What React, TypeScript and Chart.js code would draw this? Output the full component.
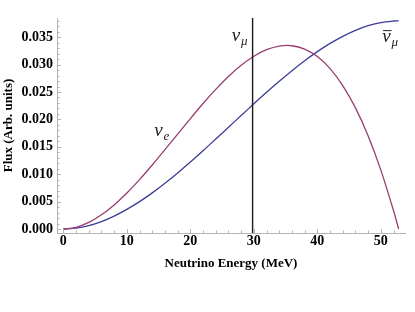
import { useEffect, useRef } from "react";
import { Chart, registerables } from "chart.js";

Chart.register(...registerables);

// Neutrino energy grid (MeV)
const energies = [0, 2, 4, 6, 8, 10, 12, 14, 16, 18, 20, 22, 24, 26, 28, 30, 32, 34, 36, 38, 40, 42, 44, 46, 48, 50, 52, 52.8];
// nu_e flux (arb. units)
const nuEFlux = [0, 0.00031, 0.0012, 0.00259, 0.0044, 0.00657, 0.00902, 0.01168, 0.01447, 0.01732, 0.02015, 0.0229, 0.02548, 0.02783, 0.02986, 0.03152, 0.03272, 0.03338, 0.03344, 0.03283, 0.03146, 0.02926, 0.02617, 0.0221, 0.01699, 0.01075, 0.00332, 0];
// anti nu_mu flux (arb. units)
const nuMuBarFlux = [0, 0.00016, 0.00062, 0.00136, 0.00235, 0.00357, 0.00499, 0.00659, 0.00835, 0.01023, 0.01222, 0.01429, 0.01641, 0.01856, 0.02071, 0.02285, 0.02494, 0.02696, 0.02889, 0.0307, 0.03236, 0.03386, 0.03516, 0.03625, 0.03709, 0.03767, 0.03795, 0.03798];
// monoenergetic nu_mu line (MeV)
const nuMuEnergy = 29.8;

const xTickValues = [0, 10, 20, 30, 40, 50];
const yTickValues = [0, 0.005, 0.01, 0.015, 0.02, 0.025, 0.03, 0.035];
const xMinorStep = 2;
const yMinorStep = 0.001;

const X_MIN = -1.0;
const X_MAX = 53.8;
const Y_MIN = -0.00073;
const Y_MAX = 0.0385;

const labels = [
  { main: "ν", sub: "μ", bar: false, x: 26.5, y: 0.0343 },
  { main: "ν", sub: "e", bar: false, x: 14.3, y: 0.0170 },
  { main: "ν", sub: "μ", bar: true, x: 50.2, y: 0.0341 },
];

const AXIS_COLOR = "#b4b4b4";
const FONT = "'Liberation Serif', 'Times New Roman', serif";

const tickPlugin = {
  id: "mmaTicks",
  afterDatasetsDraw(chart: any) {
    const { ctx, chartArea, scales } = chart;
    const xs = scales.x;
    const ys = scales.y;
    ctx.save();
    ctx.strokeStyle = AXIS_COLOR;
    ctx.lineWidth = 1;
    for (let v = 0; v <= X_MAX + 1e-9; v += xMinorStep) {
      const major = xTickValues.some((t) => Math.abs(t - v) < 1e-9);
      const px = Math.round(xs.getPixelForValue(v)) + 0.5;
      const len = major ? 4 : 2.5;
      ctx.beginPath();
      ctx.moveTo(px, chartArea.bottom);
      ctx.lineTo(px, chartArea.bottom - len);
      ctx.stroke();
    }
    for (let i = 0; i * yMinorStep <= Y_MAX + 1e-12; i++) {
      const v = i * yMinorStep;
      const major = yTickValues.some((t) => Math.abs(t - v) < 1e-9);
      const py = Math.round(ys.getPixelForValue(v)) + 0.5;
      const len = major ? 4 : 2.5;
      ctx.beginPath();
      ctx.moveTo(chartArea.left, py);
      ctx.lineTo(chartArea.left + len, py);
      ctx.stroke();
    }
    ctx.fillStyle = "#222";
    ctx.textBaseline = "alphabetic";
    ctx.textAlign = "left";
    for (const l of labels) {
      const px = xs.getPixelForValue(l.x);
      const py = ys.getPixelForValue(l.y);
      ctx.font = `italic 19px ${FONT}`;
      ctx.fillText(l.main, px, py);
      const w = ctx.measureText(l.main).width;
      if (l.bar) {
        ctx.fillRect(px + 1, py - 12, w, 1);
      }
      ctx.font = `italic 13px ${FONT}`;
      ctx.fillText(l.sub, px + w + 1, py + 4);
    }
    ctx.restore();
  },
};

export default function App() {
  const ref = useRef<HTMLCanvasElement | null>(null);
  useEffect(() => {
    if (!ref.current) return;
    const chart = new Chart(ref.current, {
      type: "scatter",
      data: {
        datasets: [
          {
            label: "nu_mu",
            data: [
              { x: nuMuEnergy, y: Y_MIN },
              { x: nuMuEnergy, y: Y_MAX },
            ],
            showLine: true,
            borderColor: "#1a1a1a",
            borderWidth: 1.4,
            pointRadius: 0,
          },
          {
            label: "nu_e",
            data: energies.map((e, i) => ({ x: e, y: nuEFlux[i] })),
            showLine: true,
            borderColor: "#993d71",
            borderWidth: 1.3,
            pointRadius: 0,
            tension: 0.3,
          },
          {
            label: "anti nu_mu",
            data: energies.map((e, i) => ({ x: e, y: nuMuBarFlux[i] })),
            showLine: true,
            borderColor: "#3d3d99",
            borderWidth: 1.3,
            pointRadius: 0,
            tension: 0.3,
          },
        ],
      },
      options: {
        animation: false,
        responsive: false,
        maintainAspectRatio: false,
        layout: { padding: { top: 18, right: 10, left: 0, bottom: 41 } },
        plugins: { legend: { display: false }, tooltip: { enabled: false } },
        scales: {
          x: {
            type: "linear",
            min: X_MIN,
            max: X_MAX,
            afterBuildTicks: (s: any) => {
              s.ticks = xTickValues.map((v) => ({ value: v }));
            },
            afterFit: (s: any) => {
              s.height = 38;
            },
            grid: { display: false, drawTicks: false },
            border: { display: true, color: AXIS_COLOR, width: 1 },
            ticks: {
              padding: 0,
              color: "#000",
              font: { family: FONT, size: 14, weight: "bold" },
              callback: (v: any) => String(v),
            },
            title: {
              display: true,
              text: "Neutrino Energy (MeV)",
              color: "#000",
              font: { family: FONT, size: 13, weight: "bold" },
              padding: 0,
            },
          },
          y: {
            type: "linear",
            min: Y_MIN,
            max: Y_MAX,
            afterBuildTicks: (s: any) => {
              s.ticks = yTickValues.map((v) => ({ value: v }));
            },
            afterFit: (s: any) => {
              s.width = 57;
            },
            grid: { display: false, drawTicks: false },
            border: { display: true, color: AXIS_COLOR, width: 1 },
            ticks: {
              padding: 4,
              color: "#000",
              font: { family: FONT, size: 14, weight: "bold" },
              callback: (v: any) => Number(v).toFixed(3),
            },
            title: {
              display: true,
              text: "Flux (Arb. units)",
              color: "#000",
              font: { family: FONT, size: 13, weight: "bold" },
              padding: { top: 1, bottom: 0 },
            },
          },
        },
      },
      plugins: [tickPlugin],
    });
    return () => chart.destroy();
  }, []);
  return (
    <div style={{ position: "absolute", left: 0, top: 0, width: 415, height: 312, background: "#fff" }}>
      <canvas ref={ref} width={415} height={312} style={{ width: 415, height: 312, display: "block" }} />
    </div>
  );
}
